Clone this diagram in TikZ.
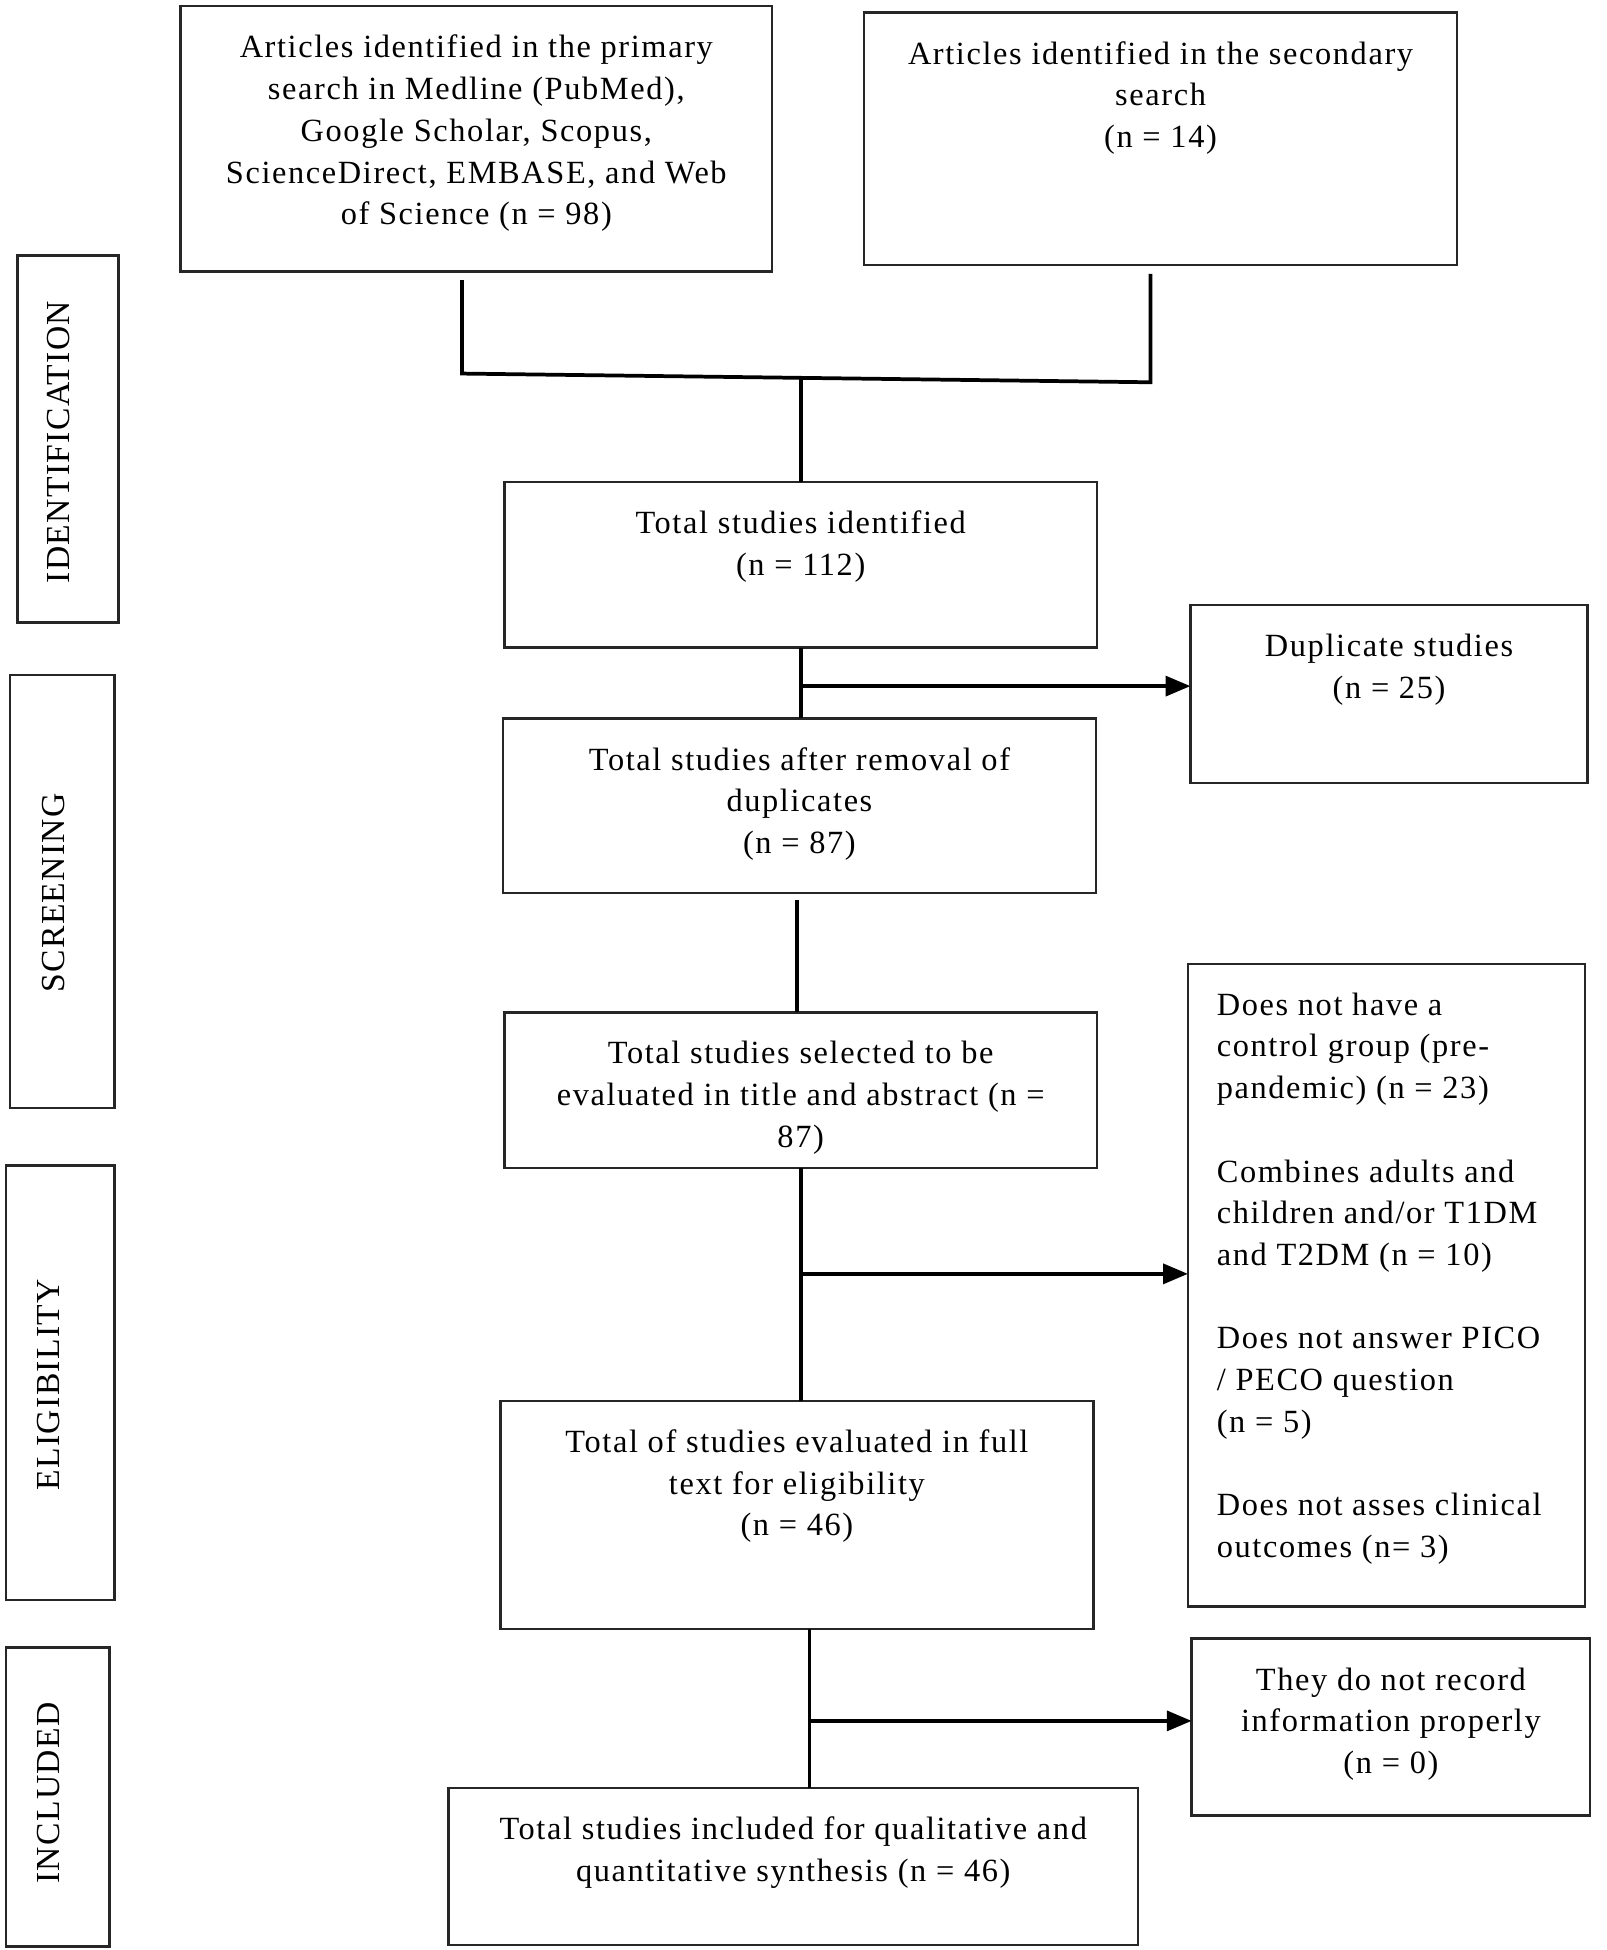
\documentclass[tikz,border=0pt]{standalone}
\usepackage{fontspec}
\setmainfont{Liberation Serif}
\usetikzlibrary{arrows.meta}
\newcommand{\boxfont}{\fontsize{26}{33.5}\selectfont\addfontfeature{LetterSpace=5}}
\newcommand{\sidefont}{\fontsize{27}{30}\selectfont\addfontfeature{LetterSpace=4}}
\begin{document}
\begin{tikzpicture}[x=1pt,y=-1pt,
  box/.style={draw=black!85, line width=2pt, inner sep=0pt, outer sep=0pt, anchor=north west},
  txt/.style={anchor=north, align=center, inner sep=0pt, font=\boxfont},
  ltxt/.style={anchor=north west, align=left, inner sep=0pt, font=\boxfont},
  side/.style={rotate=90, inner sep=0pt, font=\sidefont},
  conn/.style={line width=3pt, black},
  arr/.style={line width=3pt, black, -{Triangle[length=20pt,width=16pt]}}]
\useasboundingbox (0,0) rectangle (1290,1566);
% main boxes
\node[box, minimum width=475pt, minimum height=213pt] (prim) at (145,5) {};
\node[box, minimum width=476pt, minimum height=203pt] (sec) at (694,10) {};
\node[box, minimum width=476pt, minimum height=133pt] (tot) at (405,387) {};
\node[box, minimum width=319pt, minimum height=143pt] (dup) at (956,486) {};
\node[box, minimum width=476pt, minimum height=140pt] (rem) at (404,577) {};
\node[box, minimum width=476pt, minimum height=125pt] (sel) at (405,813) {};
\node[box, minimum width=319pt, minimum height=516pt] (exc) at (954,774) {};
\node[box, minimum width=476pt, minimum height=183pt] (full) at (402,1125) {};
\node[box, minimum width=320pt, minimum height=142pt] (rec) at (957,1316) {};
\node[box, minimum width=554pt, minimum height=126pt] (inc) at (360,1436) {};
% side boxes
\node[box, minimum width=81pt, minimum height=295pt] (sid) at (14,205) {};
\node[box, minimum width=84pt, minimum height=348pt] (ssc) at (8,542) {};
\node[box, minimum width=87pt, minimum height=349pt] (sel2) at (5,936) {};
\node[box, minimum width=83pt, minimum height=240pt] (sinc) at (5,1323) {};
% texts
\node[txt] (tprim) at ([yshift=-23pt]prim.north) {Articles identified in the primary\\search in Medline (PubMed),\\Google Scholar, Scopus,\\ScienceDirect, EMBASE, and Web\\of Science (n = 98)};
\node[txt] (tsec) at ([yshift=-23pt]sec.north) {Articles identified in the secondary\\search\\(n = 14)};
\node[txt] (ttot) at ([yshift=-23pt]tot.north) {Total studies identified\\(n = 112)};
\node[txt] (tdup) at ([yshift=-23pt]dup.north) {Duplicate studies\\(n = 25)};
\node[txt] (trem) at ([yshift=-23pt]rem.north) {Total studies after removal of\\duplicates\\(n = 87)};
\node[txt] (tsel) at ([yshift=-23pt]sel.north) {Total studies selected to be\\evaluated in title and abstract (n =\\87)};
\node[ltxt] (texc) at ([xshift=23pt,yshift=-23pt]exc.north west) {Does not have a\\control group (pre-\\pandemic) (n = 23)\\[33.5pt]Combines adults and\\children and/or T1DM\\and T2DM (n = 10)\\[33.5pt]Does not answer PICO\\/ PECO question\\(n = 5)\\[33.5pt]Does not asses clinical\\outcomes (n= 3)};
\node[txt] (tfull) at ([yshift=-23pt]full.north) {Total of studies evaluated in full\\text for eligibility\\(n = 46)};
\node[txt] (trec) at ([yshift=-23pt]rec.north) {They do not record\\information properly\\(n = 0)};
\node[txt] (tinc) at ([yshift=-23pt]inc.north) {Total studies included for qualitative and\\quantitative synthesis (n = 46)};
\node[side] (lid) at (47,355) {IDENTIFICATION};
\node[side] (lsc) at (43,717) {SCREENING};
\node[side] (lel) at (39,1112) {ELIGIBILITY};
\node[side] (lin) at (39,1440) {INCLUDED};
% connectors
\coordinate (j1) at (371,300);
\coordinate (j2) at (924,307);
\coordinate (j3) at (643,304);
\draw[conn] ([yshift=-7pt]prim.south -| j1) -- (j1) -- (j2) -- ([yshift=-7pt]sec.south -| j2);
\draw[conn] (j3) -- (tot.north -| j3);
\coordinate (a1) at (643,551);
\draw[conn] (tot.south -| a1) -- (rem.north -| a1);
\draw[arr] (a1) -- (dup.west |- a1);
\coordinate (v2) at (640,723);
\draw[conn] (v2) -- (sel.north -| v2);
\coordinate (a2) at (643,1023);
\draw[conn] (sel.south -| a2) -- (full.north -| a2);
\draw[arr] (a2) -- (exc.west |- a2);
\coordinate (a3) at (650,1382);
\draw[conn] (full.south -| a3) -- (inc.north -| a3);
\draw[arr] (a3) -- (rec.west |- a3);
\end{tikzpicture}
\end{document}
